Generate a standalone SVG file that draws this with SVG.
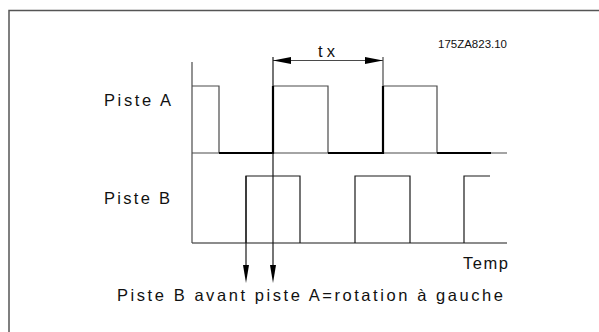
<svg xmlns="http://www.w3.org/2000/svg" width="599" height="332" viewBox="0 0 599 332">
<defs>
<style>
.frame{fill:none;stroke:#555;stroke-width:1.5}
.thin{fill:none;stroke:#4a4a4a;stroke-width:1.2}
.sig{fill:none;stroke:#1a1a1a;stroke-width:1.2}
.bold{fill:none;stroke:#000;stroke-width:2.2}
.lbl{font-family:"Liberation Sans",Arial,sans-serif;font-size:16.5px;fill:#111}
.ref{font-family:"Liberation Sans",Arial,sans-serif;font-size:10.5px;fill:#111}
.head{fill:#000}
</style>
</defs>
<rect width="599" height="332" fill="#fff"/>
<path class="frame" d="M9,332 V10.5 H599"/>
<g id="ref-code"><text class="ref" x="438" y="48" textLength="69" lengthAdjust="spacingAndGlyphs">175ZA823.10</text></g>
<g id="piste-a">
<text class="lbl" x="104" y="106" textLength="67" lengthAdjust="spacing">Piste A</text>
<path class="thin" d="M192,153 H507"/>
<path class="thin" d="M192,86 H219 V153 M273,86 H328 V153 M383,86 H437 V153"/>
<path class="bold" d="M219,153 H273 V86 M328,153 H383 V86 M437,153 H491"/>
</g>
<g id="piste-b">
<text class="lbl" x="104" y="204" textLength="66" lengthAdjust="spacing">Piste B</text>
<path class="sig" d="M192,243 H507"/>
<path class="sig" d="M246,243 V176 H300 V243 M355,243 V176 H410 V243 M464,243 V176 H490"/>
</g>
<g id="axis"><path class="thin" d="M192,62 V243"/></g>
<g id="tx-dim">
<text class="lbl" x="318" y="57" textLength="17" lengthAdjust="spacing">tx</text>
<path class="thin" d="M273,60.5 H383 M383,57 V86"/>
<polygon class="head" points="273,60.5 291,57 291,64"/>
<polygon class="head" points="383,60.5 365,57 365,64"/>
</g>
<g id="connectors">
<path class="sig" d="M246,176 V268"/>
<path class="sig" d="M273,57 V86 M273,153 V268"/>
<polygon class="head" points="243,265 249,265 246,283"/>
<polygon class="head" points="270,265 276,265 273,283"/>
</g>
<g id="temp"><text class="lbl" x="463" y="269" textLength="45" lengthAdjust="spacing">Temp</text></g>
<g id="caption"><text class="lbl" x="117" y="300.5" textLength="386" lengthAdjust="spacing">Piste B avant piste A=rotation à gauche</text></g>
</svg>
